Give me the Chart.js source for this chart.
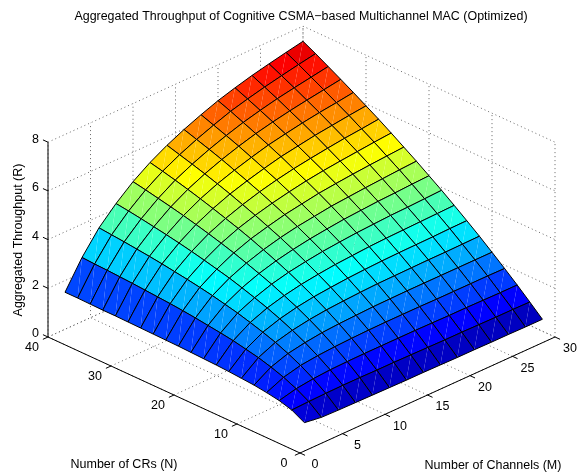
<!DOCTYPE html>
<html>
<head>
<meta charset="utf-8">
<title>Aggregated Throughput</title>
<script src="https://cdn.jsdelivr.net/npm/chart.js@4"></script>
<style>
  html, body { margin: 0; padding: 0; background: #fff; }
  canvas { display: block; }
</style>
</head>
<body>
<canvas id="chart" width="582" height="473"></canvas>
<script>
// Grid of the surface
const channels = [2, 4, 6, 8, 10, 12, 14, 16, 18, 20, 22, 24, 26, 28, 30];
const crs = [2, 4, 6, 8, 10, 12, 14, 16, 18, 20, 22, 24, 26, 28, 30, 32, 34, 36, 38, 40];

// Throughput: one row per channel count, one column per CR count
const throughput = [
  [0.69, 0.97, 1.12, 1.21, 1.28, 1.32, 1.36, 1.39, 1.41, 1.43, 1.45, 1.46, 1.47, 1.48, 1.49, 1.50, 1.50, 1.51, 1.52, 1.52],
  [0.59, 1.00, 1.29, 1.52, 1.70, 1.85, 1.96, 2.07, 2.15, 2.22, 2.29, 2.35, 2.40, 2.44, 2.48, 2.52, 2.55, 2.58, 2.60, 2.63],
  [0.57, 1.02, 1.38, 1.69, 1.94, 2.16, 2.34, 2.50, 2.65, 2.77, 2.89, 2.99, 3.08, 3.16, 3.24, 3.31, 3.37, 3.43, 3.48, 3.53],
  [0.56, 1.03, 1.43, 1.77, 2.07, 2.34, 2.57, 2.78, 2.96, 3.13, 3.29, 3.42, 3.55, 3.67, 3.78, 3.88, 3.97, 4.06, 4.14, 4.21],
  [0.55, 1.03, 1.45, 1.82, 2.16, 2.46, 2.73, 2.97, 3.20, 3.40, 3.59, 3.77, 3.93, 4.08, 4.22, 4.35, 4.47, 4.58, 4.69, 4.79],
  [0.54, 1.02, 1.46, 1.85, 2.21, 2.54, 2.84, 3.11, 3.37, 3.60, 3.82, 4.03, 4.22, 4.39, 4.56, 4.72, 4.87, 5.01, 5.14, 5.26],
  [0.53, 1.02, 1.46, 1.87, 2.24, 2.59, 2.91, 3.21, 3.49, 3.75, 4.00, 4.22, 4.44, 4.64, 4.84, 5.02, 5.19, 5.35, 5.50, 5.65],
  [0.53, 1.01, 1.46, 1.88, 2.27, 2.63, 2.97, 3.29, 3.59, 3.87, 4.14, 4.39, 4.62, 4.85, 5.06, 5.26, 5.46, 5.64, 5.81, 5.98],
  [0.52, 1.00, 1.46, 1.88, 2.28, 2.66, 3.01, 3.34, 3.66, 3.96, 4.24, 4.51, 4.77, 5.02, 5.25, 5.47, 5.69, 5.89, 6.08, 6.27],
  [0.51, 0.99, 1.45, 1.88, 2.29, 2.67, 3.04, 3.39, 3.72, 4.04, 4.34, 4.63, 4.90, 5.16, 5.42, 5.66, 5.89, 6.11, 6.33, 6.53],
  [0.51, 0.99, 1.44, 1.87, 2.29, 2.68, 3.06, 3.42, 3.76, 4.09, 4.40, 4.71, 5.00, 5.27, 5.54, 5.80, 6.05, 6.29, 6.52, 6.74],
  [0.50, 0.98, 1.44, 1.87, 2.29, 2.69, 3.07, 3.44, 3.80, 4.14, 4.46, 4.78, 5.08, 5.37, 5.66, 5.93, 6.19, 6.45, 6.69, 6.93],
  [0.50, 0.97, 1.43, 1.87, 2.29, 2.69, 3.08, 3.46, 3.82, 4.17, 4.51, 4.84, 5.15, 5.46, 5.75, 6.04, 6.31, 6.58, 6.84, 7.09],
  [0.49, 0.97, 1.42, 1.87, 2.29, 2.70, 3.10, 3.48, 3.85, 4.21, 4.56, 4.89, 5.22, 5.53, 5.84, 6.13, 6.42, 6.70, 6.98, 7.24],
  [0.49, 0.96, 1.42, 1.86, 2.29, 2.71, 3.11, 3.50, 3.88, 4.24, 4.60, 4.94, 5.28, 5.61, 5.92, 6.23, 6.53, 6.82, 7.11, 7.38]
];

// Axis ticks
const channelTicks = [0, 5, 10, 15, 20, 25, 30];
const crTicks = [0, 10, 20, 30, 40];
const throughputTicks = [0, 2, 4, 6, 8];

const titleText = 'Aggregated Throughput of Cognitive CSMA\u2212based Multichannel MAC (Optimized)';
const channelLabel = 'Number of Channels (M)';
const crLabel = 'Number of CRs (N)';
const throughputLabel = 'Aggregated Throughput (R)';

const FONT = '"Liberation Sans", Arial, sans-serif';
const COLOR_MAX = 7.8; // top of the colour range

// View: the three axes of the box as seen from the camera
function project(m, n, z) {
  return {
    x: 300 + 8.5 * m - 6.3 * n,
    y: 453 - 3.867 * m - 2.9 * n - 24.35 * z
  };
}

// Jet colormap
function jet(value) {
  const t = Math.max(0, Math.min(1, value / COLOR_MAX));
  const clamp = v => Math.round(255 * Math.max(0, Math.min(1, v)));
  const r = clamp(Math.min(4 * t - 1.5, 4.5 - 4 * t));
  const g = clamp(Math.min(4 * t - 0.5, 3.5 - 4 * t));
  const b = clamp(Math.min(4 * t + 0.5, 2.5 - 4 * t));
  return `rgb(${r},${g},${b})`;
}

function lineSet(points, color, width, dash) {
  return {
    data: points,
    showLine: true,
    fill: false,
    pointRadius: 0,
    tension: 0,
    borderColor: color,
    borderWidth: width,
    borderDash: dash || [],
    clip: false
  };
}

function fillSet(points, color) {
  return {
    data: points,
    showLine: true,
    fill: 'shape',
    pointRadius: 0,
    tension: 0,
    backgroundColor: color,
    borderWidth: 0,
    clip: false
  };
}

// The first dataset is painted last, so the cells nearest the camera come first
const datasets = [];

for (let i = 0; i < channels.length - 1; i++) {
  for (let j = 0; j < crs.length - 1; j++) {
    const near = project(channels[i], crs[j], throughput[i][j]);
    const right = project(channels[i + 1], crs[j], throughput[i + 1][j]);
    const far = project(channels[i + 1], crs[j + 1], throughput[i + 1][j + 1]);
    const left = project(channels[i], crs[j + 1], throughput[i][j + 1]);
    const color = jet(throughput[i][j]);

    datasets.push(lineSet([near, right, far, left, near], '#000', 1));
    datasets.push(fillSet([near, right, far, near], color));
    datasets.push(fillSet([near, far, left, near], color));
  }
}

// Box axes
const mEnd = channelTicks[channelTicks.length - 1];
const nEnd = crTicks[crTicks.length - 1];
const zEnd = throughputTicks[throughputTicks.length - 1];
const tickSize = 0.8;

datasets.push(lineSet([project(0, 0, 0), project(mEnd, 0, 0)], '#000', 1));
datasets.push(lineSet([project(0, 0, 0), project(0, nEnd, 0)], '#000', 1));
datasets.push(lineSet([project(0, nEnd, 0), project(0, nEnd, zEnd)], '#000', 1));

channelTicks.forEach(m => {
  datasets.push(lineSet([project(m, 0, 0), project(m, -tickSize, 0)], '#000', 1));
});
crTicks.forEach(n => {
  datasets.push(lineSet([project(0, n, 0), project(-tickSize * 0.75, n, 0)], '#000', 1));
});
throughputTicks.forEach(z => {
  datasets.push(lineSet([project(0, nEnd, z), project(0, nEnd + tickSize, z)], '#000', 1));
});

// Dotted grid on the floor and the two back walls
const DOTS = [1, 3];
const GRID = '#666';
channelTicks.forEach(m => {
  datasets.push(lineSet([project(m, 0, 0), project(m, nEnd, 0), project(m, nEnd, zEnd)], GRID, 1, DOTS));
});
crTicks.forEach(n => {
  datasets.push(lineSet([project(0, n, 0), project(mEnd, n, 0), project(mEnd, n, zEnd)], GRID, 1, DOTS));
});
throughputTicks.forEach(z => {
  datasets.push(lineSet([project(0, nEnd, z), project(mEnd, nEnd, z), project(mEnd, 0, z)], GRID, 1, DOTS));
});

// Tick labels and axis titles sit on the projected axes
const boxLabels = {
  id: 'boxLabels',
  afterDraw(chart) {
    const { ctx, scales } = chart;
    const put = (text, x, y, align) => {
      ctx.textAlign = align || 'center';
      ctx.fillText(text, scales.x.getPixelForValue(x), scales.y.getPixelForValue(y));
    };
    ctx.save();
    ctx.fillStyle = '#000';
    ctx.textBaseline = 'middle';
    ctx.font = `12.5px ${FONT}`;

    channelTicks.forEach(m => {
      const p = project(m, 0, 0);
      put(String(m), p.x + 15, p.y + 12);
    });
    crTicks.forEach(n => {
      const p = project(0, n, 0);
      put(String(n), p.x - 16, p.y + 11);
    });
    throughputTicks.forEach(z => {
      const p = project(0, nEnd, z);
      put(String(z), p.x - 9, p.y - 3, 'right');
    });

    put(crLabel, 124, 465);
    put(channelLabel, 493, 466);

    ctx.translate(scales.x.getPixelForValue(19), scales.y.getPixelForValue(240));
    ctx.rotate(-Math.PI / 2);
    ctx.textAlign = 'center';
    ctx.fillText(throughputLabel, 0, 0);
    ctx.restore();
  }
};

new Chart(document.getElementById('chart'), {
  type: 'scatter',
  data: { datasets },
  plugins: [boxLabels],
  options: {
    responsive: false,
    animation: false,
    events: [],
    layout: { padding: { left: 20 } },
    plugins: {
      legend: { display: false },
      tooltip: { enabled: false },
      title: {
        display: true,
        text: titleText,
        fullSize: false,
        color: '#000',
        font: { family: FONT, size: 12.45, weight: 'normal', lineHeight: '14px' },
        padding: { top: 10, bottom: 0 }
      }
    },
    scales: {
      x: { type: 'linear', display: false, min: 20, max: 582 },
      y: { type: 'linear', display: false, min: 24, max: 473, reverse: true }
    }
  }
});
</script>
</body>
</html>
